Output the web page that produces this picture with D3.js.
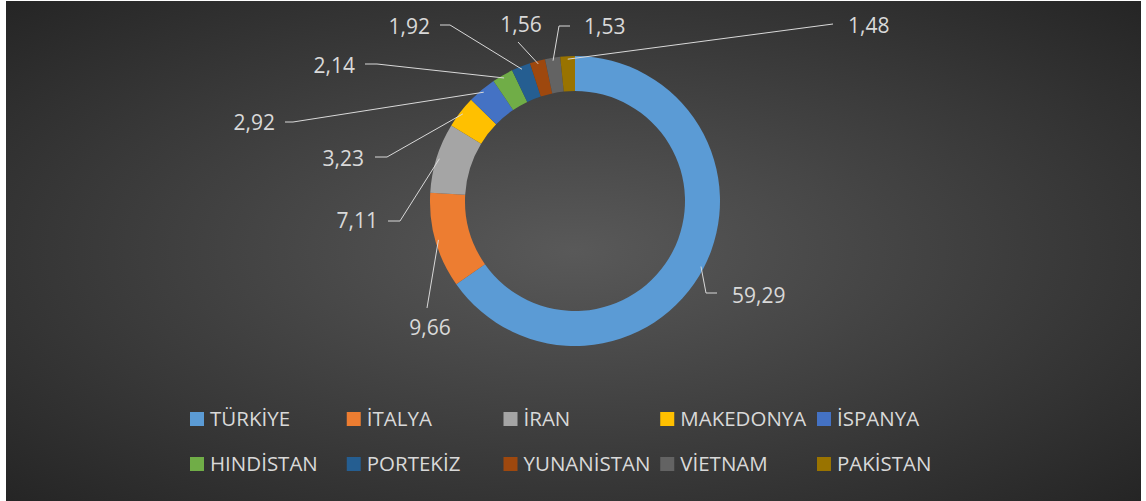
<!DOCTYPE html>
<html>
<head>
<meta charset="utf-8">
<script src="https://cdn.jsdelivr.net/npm/d3@7"></script>
<style>
  html, body { margin: 0; padding: 0; background: #fff; }
  svg { display: block; }
  text { font-family: "Open Sans", "Noto Sans", sans-serif; fill: #d9d9d9; }
</style>
</head>
<body>
<svg id="chart" width="1146" height="501"></svg>
<script>
// data
const countries = ["TÜRKİYE", "İTALYA", "İRAN", "MAKEDONYA", "İSPANYA",
                   "HINDİSTAN", "PORTEKİZ", "YUNANİSTAN", "VİETNAM", "PAKİSTAN"];
const shares = [59.29, 9.66, 7.11, 3.23, 2.92, 2.14, 1.92, 1.56, 1.53, 1.48];
const labels = ["59,29", "9,66", "7,11", "3,23", "2,92", "2,14", "1,92", "1,56", "1,53", "1,48"];
const colors = ["#5b9bd5", "#ed7d31", "#a5a5a5", "#ffc000", "#4472c4",
                "#70ad47", "#255e91", "#9e480e", "#636363", "#997300"];

// label placement (elbow x/y, end of horizontal tick, text x, baseline, anchor)
const labelLayout = [
    { ex: 706, ey: 293, hx: 717, tx: 732, ty: 303, anchor: "start" },
    { ex: 427, ey: 308, hx: null, tx: 430, ty: 335, anchor: "middle" },
    { ex: 400, ey: 221, hx: 388, tx: 378, ty: 228, anchor: "end" },
    { ex: 387, ey: 157, hx: 375, tx: 364, ty: 166, anchor: "end" },
    { ex: 293, ey: 122, hx: 285, tx: 275, ty: 130, anchor: "end" },
    { ex: 377, ey: 64, hx: 365, tx: 355, ty: 73, anchor: "end" },
    { ex: 450, ey: 25, hx: 440, tx: 430, ty: 34, anchor: "end" },
    { ex: 518, ey: 42, hx: null, tx: 521, ty: 32, anchor: "middle" },
    { ex: 559, ey: 26, hx: 570, tx: 584, ty: 34, anchor: "start" },
    { ex: 833, ey: 24, hx: null, tx: 848, ty: 33, anchor: "start" }
];

const svg = d3.select("#chart");

// background
const defs = svg.append("defs");
const grad = defs.append("radialGradient")
    .attr("id", "bg").attr("cx", "50%").attr("cy", "50%").attr("r", "72%");
grad.append("stop").attr("offset", "0%").attr("stop-color", "#595959");
grad.append("stop").attr("offset", "100%").attr("stop-color", "#242424");

svg.append("rect")
    .attr("x", 6).attr("y", 1)
    .attr("width", 1135).attr("height", 500)
    .attr("fill", "url(#bg)");

// donut
const cx = 575, cy = 201;
const outerR = 145, innerR = 110;

const pie = d3.pie().sort(null).value(d => d);
const arcs = pie(shares);
const arc = d3.arc().innerRadius(innerR).outerRadius(outerR);

const g = svg.append("g").attr("transform", `translate(${cx},${cy})`);
g.selectAll("path.slice")
    .data(arcs)
    .enter()
    .append("path")
    .attr("class", "slice")
    .attr("d", arc)
    .attr("fill", (d, i) => colors[i]);

// leader lines and value labels
arcs.forEach((d, i) => {
    const a = (d.startAngle + d.endAngle) / 2;
    const sx = cx + (outerR - 3) * Math.sin(a);
    const sy = cy - (outerR - 3) * Math.cos(a);
    const L = labelLayout[i];
    const pts = [[sx, sy], [L.ex, L.ey]];
    if (L.hx !== null) pts.push([L.hx, L.ey]);
    svg.append("path")
        .attr("d", d3.line()(pts))
        .attr("fill", "none")
        .attr("stroke", "#d9d9d9")
        .attr("stroke-width", 1);
    svg.append("text")
        .attr("x", L.tx).attr("y", L.ty)
        .attr("text-anchor", L.anchor)
        .attr("font-size", 21)
        .text(labels[i]);
});

// legend
const legX = d3.scalePoint().domain(d3.range(5)).range([190, 817]);
const legY = [412, 457];
const leg = svg.append("g");
countries.forEach((c, i) => {
    const col = i % 5, row = Math.floor(i / 5);
    const x = legX(col), y = legY[row];
    leg.append("rect")
        .attr("x", x).attr("y", y)
        .attr("width", 14).attr("height", 14)
        .attr("fill", colors[i]);
    leg.append("text")
        .attr("x", x + 20).attr("y", y + 14)
        .attr("font-size", 20.5)
        .text(c);
});
</script>
</body>
</html>
